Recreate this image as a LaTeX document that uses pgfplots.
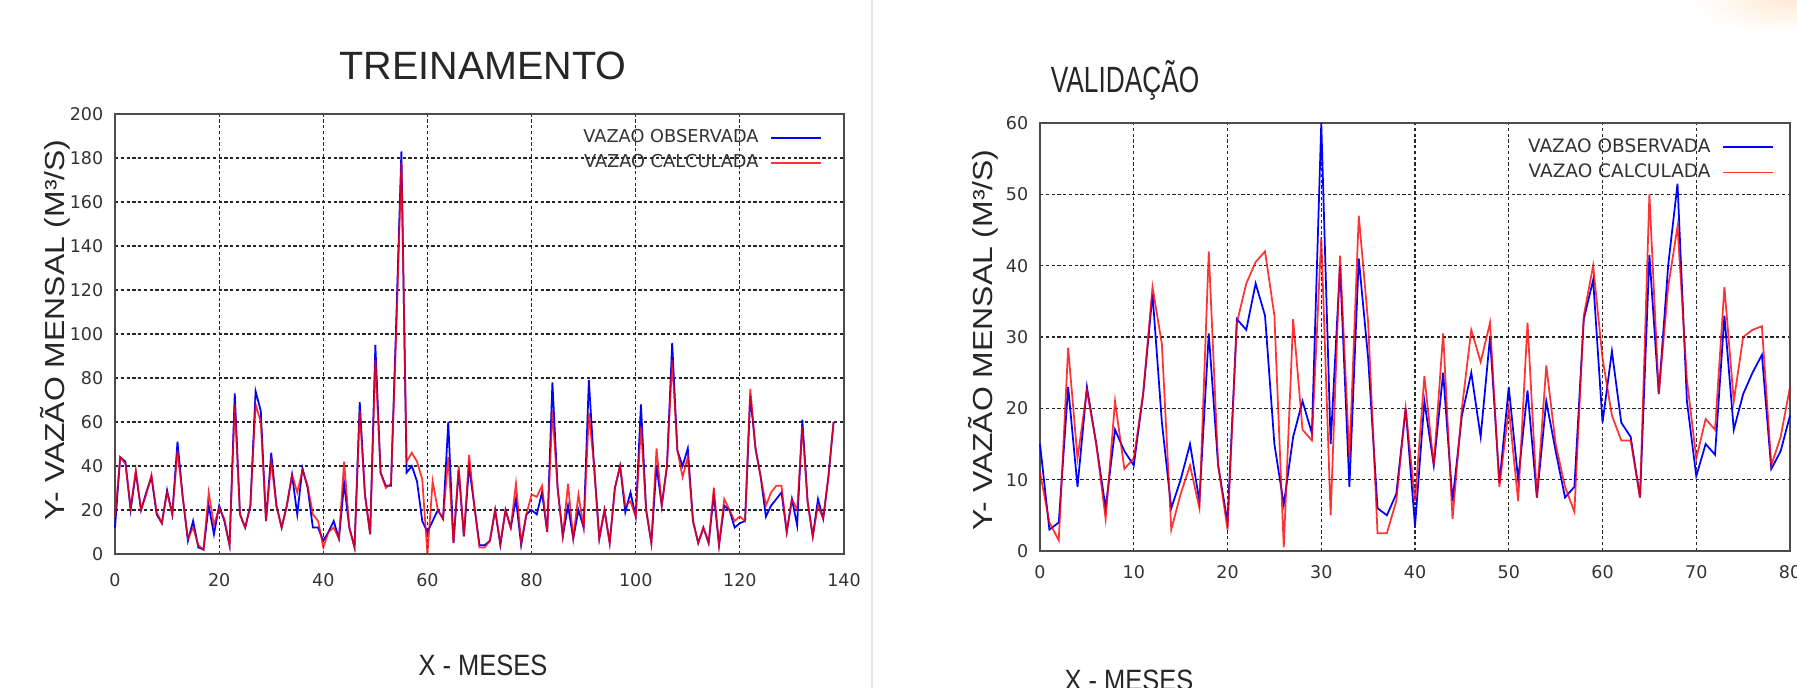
\documentclass[border=0pt]{standalone}
\usepackage{pgfplots}
\pgfplotsset{compat=1.18}
\usepackage{fontspec}
\setmainfont{Liberation Sans}
\newfontfamily\dejavu{DejaVu Sans}

\pgfplotstableread{
m obs calc
0 12 17
1 44 44
2 42 41
3 20 21
4 37 38
5 20 20
6 28 27
7 35 36
8 18 19
9 14 14
10 29 28
11 18 18
12 51 47
13 26 26
14 6 7
15 15 12
16 3 4
17 2 2
18 22 28
19 9 13
20 22 21
21 15 16
22 4 4
23 73 68
24 18 18
25 12 12
26 22 22
27 74 68
28 65 60
29 15 15
30 46 42
31 22 22
32 12 12
33 22 22
34 36 36
35 18 28
36 39 38
37 30 31
38 12 18
39 12 15
40 6 3
41 10 10
42 15 12
43 7 7
44 32 42
45 12 12
46 3 3
47 69 65
48 27 27
49 9 9
50 95 88
51 37 37
52 31 30
53 31 32
54 105 100
55 183 178
56 37 42
57 40 46
58 33 42
59 15 34
60 10 0
61 15 33
62 20 20
63 16 16
64 60 44
65 5 5
66 38 40
67 8 8
68 40 45
69 22 22
70 4 3
71 4 3
72 6 6
73 20 20
74 4 5
75 20 20
76 12 12
77 25 32
78 4 5
79 18 18
80 20 27
81 18 26
82 28 31
83 10 10
84 78 65
85 30 30
86 8 8
87 22 32
88 7 7
89 20 27
90 12 12
91 79 64
92 40 40
93 7 7
94 20 20
95 5 5
96 30 30
97 40 40
98 19 22
99 28 24
100 17 17
101 68 58
102 20 20
103 5 5
104 40 48
105 22 22
106 40 40
107 96 88
108 47 47
109 40 35
110 48 44
111 15 15
112 5 5
113 12 12
114 5 5
115 27 30
116 4 4
117 22 25
118 20 20
119 12 15
120 14 17
121 15 15
122 72 75
123 48 48
124 35 35
125 17 22
126 22 28
127 25 31
128 28 31
129 10 10
130 25 25
131 13 20
132 61 58
133 24 24
134 8 8
135 25 22
136 16 16
137 35 35
138 60 60
}\treino

\pgfplotstableread{
m obs calc
0 15 11
1 3 4
2 4 1.5
3 23 28.5
4 9 13
5 23 22.5
6 15 15
7 6 4.5
8 17 21
9 14 11.5
10 12 13
11 22 22
12 36 37
13 18 29
14 6 3
15 10 8
16 15 12
17 7 6
18 30.5 42
19 12 12
20 4 3
21 32.5 32
22 31 37.5
23 37.5 40.5
24 33 42
25 15 33
26 6.5 0.5
27 16 32.5
28 21 17
29 16.5 15.5
30 60 44
31 15 5
32 40 41.4
33 9 13
34 41 47
35 27 32
36 6 2.5
37 5 2.5
38 8 7
39 20 20
40 3.5 7
41 21 24.5
42 12 12
43 25 30.5
44 7 4.5
45 19 20
46 25 31
47 16 26.5
48 30 32
49 9.5 9
50 23 20
51 10 7
52 22.5 32
53 7.5 7.5
54 21 26
55 14 15
56 7.5 9
57 9 5.5
58 32.5 33
59 38 40
60 18 27
61 28 19
62 18 15.5
63 16 15.5
64 7.5 7.5
65 41.5 50
66 22 22
67 40 37
68 51.5 45.5
69 21 24
70 10.5 13
71 15 18.5
72 13.5 17
73 33 37
74 17 21
75 22 30
76 25 31
77 27.5 31.5
78 11.5 12
79 14 16
80 19 23
}\valid

\pgfplotsset{
  chart/.style={
    scale only axis,
    axis line style={black!70, line width=0.6pt},
    major tick length=0pt,
    grid=major,
    major grid style={black!85, line width=0.5pt, dash pattern=on 1.3pt off 1pt},
    /pgf/number format/assume math mode=true,
    tick label style={font=\fontsize{7}{8}\selectfont\dejavu, text=black!80},
    xticklabel style={yshift=-4.4pt},
    yticklabel style={xshift=-1.2pt},
    clip=false,
    legend plot pos=right,
    legend cell align=right,
    legend image code/.code={\draw[##1, line width=0.6pt] (0pt,0pt) -- (20pt,0pt);},
    legend style={draw=none, fill=none, font=\fontsize{7.1}{8}\selectfont\dejavu, text=black!80,
      at={(1,1)}, anchor=north east, xshift=-7.6pt, yshift=-3pt,
      row sep=-0.8pt, inner sep=1pt, /tikz/every odd column/.append style={column sep=2.8pt}},
  },
  obsline/.style={blue, line width=0.7pt},
  calcline/.style={red, line width=0.7pt, opacity=0.8},
}

\begin{document}
\begin{tikzpicture}
\fill[white] (0,0) rectangle (718.8pt,275.2pt);
\shade[inner color=orange!16, outer color=white] (714pt,275.2pt) ellipse [x radius=38pt, y radius=13pt];
\draw[color={rgb,255:red,222;green,230;blue,234}, line width=1pt] (348.8pt,0) -- (348.8pt,275.2pt);

\begin{axis}[chart,
  at={(46pt,53.6pt)}, anchor=south west,
  width=291.6pt, height=176pt,
  xmin=0, xmax=140, ymin=0, ymax=200,
  xtick={0,20,...,140}, ytick={0,20,...,200},
]
\addplot[obsline] table[x=m, y=obs] {\treino};
\addlegendentry{VAZAO OBSERVADA}
\addplot[calcline] table[x=m, y=calc] {\treino};
\addlegendentry{VAZAO CALCULADA}
\end{axis}

\begin{axis}[chart,
  at={(416pt,54.8pt)}, anchor=south west,
  width=300pt, height=171.2pt,
  xmin=0, xmax=80, ymin=0, ymax=60,
  xtick={0,10,...,80}, ytick={0,10,...,60},
  xticklabel style={yshift=2.3pt},
  legend style={font=\fontsize{7.4}{8}\selectfont\dejavu, xshift=2.4pt},
]
\addplot[obsline] table[x=m, y=obs] {\valid};
\addlegendentry{VAZAO OBSERVADA}
\addplot[calcline] table[x=m, y=calc] {\valid};
\addlegendentry{VAZAO CALCULADA}
\end{axis}

\node[font=\fontsize{15.8}{17}\selectfont, text=black!85] at (193.2pt,248.8pt) {TREINAMENTO};
\node[font=\fontsize{14.6}{16}\selectfont, text=black!85] at (450pt,243.2pt) {\scalebox{0.72}[1]{VALIDAÇÃO}};
\node[font=\fontsize{10.5}{12}\selectfont, text=black!85] at (193.2pt,9.2pt) {\scalebox{0.97}[1.12]{X - MESES}};
\node[font=\fontsize{10.5}{12}\selectfont, text=black!85] at (451.6pt,3.2pt) {\scalebox{0.97}[1.12]{X - MESES}};
\node[font=\fontsize{11}{13}\selectfont, text=black!85, rotate=90] at (22pt,143.2pt) {\scalebox{1.16}[1]{Y- VAZÃO MENSAL (M³/S)}};
\node[font=\fontsize{11}{13}\selectfont, text=black!85, rotate=90] at (393.2pt,139.2pt) {\scalebox{1.16}[1]{Y- VAZÃO MENSAL (M³/S)}};

\pgfresetboundingbox
\useasboundingbox (0,0) rectangle (718.8pt,275.2pt);
\end{tikzpicture}
\end{document}
